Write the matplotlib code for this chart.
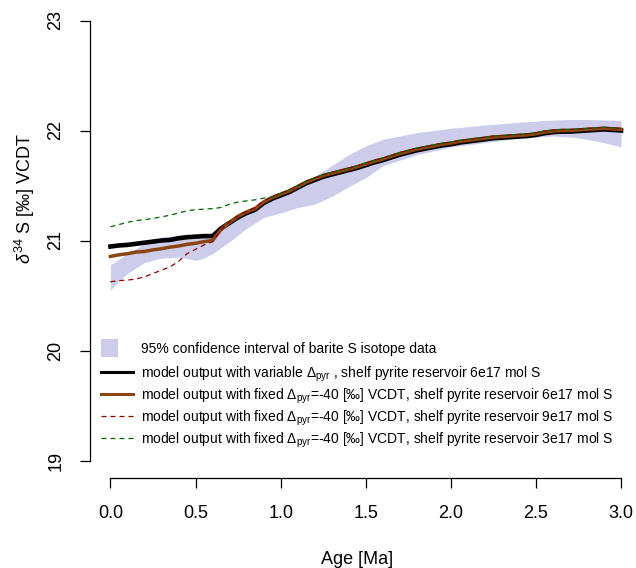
import matplotlib
matplotlib.use("Agg")
import matplotlib.pyplot as plt
from matplotlib.lines import Line2D
from matplotlib.patches import Rectangle
from matplotlib.legend import Legend
from matplotlib.legend_handler import HandlerPatch

plt.rcParams['font.family'] = ['Liberation Sans', 'DejaVu Sans']
plt.rcParams['mathtext.fontset'] = 'custom'
plt.rcParams['mathtext.rm'] = 'Liberation Sans'
plt.rcParams['mathtext.it'] = 'Liberation Sans:italic'
plt.rcParams['mathtext.bf'] = 'Liberation Sans:bold'

# Model age grid [Ma]
age = [0.00, 0.05, 0.10, 0.15, 0.20, 0.25, 0.30, 0.35, 0.40, 0.45,
       0.50, 0.55, 0.60, 0.65, 0.70, 0.75, 0.80, 0.85, 0.90, 0.95,
       1.00, 1.05, 1.10, 1.15, 1.20, 1.25, 1.30, 1.35, 1.40, 1.45,
       1.50, 1.55, 1.60, 1.65, 1.70, 1.75, 1.80, 1.85, 1.90, 1.95,
       2.00, 2.05, 2.10, 2.15, 2.20, 2.25, 2.30, 2.35, 2.40, 2.45,
       2.50, 2.55, 2.60, 2.65, 2.70, 2.75, 2.80, 2.85, 2.90, 2.95, 3.00]

# variable fractionation, shelf pyrite reservoir 6e17 mol S
d34s_variable = [20.945, 20.955, 20.960, 20.970, 20.980, 20.990, 21.000, 21.005, 21.020, 21.030,
                 21.035, 21.040, 21.040, 21.110, 21.160, 21.210, 21.250, 21.280, 21.340, 21.380,
                 21.410, 21.440, 21.480, 21.520, 21.550, 21.580, 21.600, 21.620, 21.640, 21.660,
                 21.685, 21.710, 21.730, 21.755, 21.780, 21.800, 21.820, 21.835, 21.850, 21.865,
                 21.875, 21.890, 21.900, 21.910, 21.920, 21.930, 21.935, 21.940, 21.945, 21.950,
                 21.960, 21.975, 21.985, 21.990, 21.990, 21.995, 22.000, 22.005, 22.010, 22.005, 22.000]

# fixed fractionation, reservoir 6e17 mol S
d34s_fixed_6e17 = [20.855, 20.870, 20.880, 20.895, 20.900, 20.915, 20.925, 20.940, 20.950, 20.965,
                   20.975, 20.990, 21.000, 21.100, 21.165, 21.220, 21.260, 21.290, 21.350, 21.390,
                   21.420, 21.450, 21.490, 21.530, 21.560, 21.590, 21.610, 21.630, 21.650, 21.670,
                   21.695, 21.720, 21.740, 21.765, 21.790, 21.810, 21.830, 21.845, 21.860, 21.875,
                   21.885, 21.900, 21.910, 21.920, 21.930, 21.940, 21.945, 21.950, 21.955, 21.960,
                   21.970, 21.985, 21.995, 22.000, 22.000, 22.005, 22.010, 22.015, 22.020, 22.015, 22.010]

# fixed fractionation, reservoir 9e17 mol S
d34s_fixed_9e17 = [20.625, 20.635, 20.640, 20.650, 20.670, 20.700, 20.730, 20.760, 20.810, 20.880,
                   20.920, 20.960, 20.990, 21.100, 21.170, 21.225, 21.265, 21.300, 21.360, 21.400,
                   21.430, 21.460, 21.500, 21.540, 21.570, 21.600, 21.620, 21.640, 21.660, 21.680,
                   21.705, 21.730, 21.750, 21.775, 21.800, 21.820, 21.840, 21.855, 21.870, 21.885,
                   21.895, 21.910, 21.920, 21.930, 21.940, 21.950, 21.955, 21.960, 21.965, 21.970,
                   21.980, 21.995, 22.005, 22.010, 22.010, 22.015, 22.020, 22.025, 22.030, 22.025, 22.020]

# fixed fractionation, reservoir 3e17 mol S
d34s_fixed_3e17 = [21.125, 21.145, 21.165, 21.180, 21.190, 21.200, 21.215, 21.230, 21.250, 21.270,
                   21.280, 21.285, 21.290, 21.300, 21.330, 21.350, 21.360, 21.370, 21.385, 21.395,
                   21.430, 21.460, 21.500, 21.540, 21.570, 21.600, 21.620, 21.640, 21.660, 21.680,
                   21.705, 21.730, 21.750, 21.775, 21.800, 21.820, 21.840, 21.855, 21.870, 21.885,
                   21.895, 21.910, 21.920, 21.930, 21.940, 21.950, 21.955, 21.960, 21.965, 21.970,
                   21.980, 21.995, 22.005, 22.010, 22.010, 22.015, 22.020, 22.025, 22.030, 22.025, 22.020]

# 95% confidence interval of barite d34S data
ci_age = [0.00, 0.05, 0.10, 0.20, 0.30, 0.40, 0.50, 0.55, 0.60, 0.70, 0.80, 0.90, 1.00, 1.10,
          1.20, 1.30, 1.40, 1.50, 1.60, 1.80, 2.00, 2.20, 2.40, 2.60, 2.70, 2.80, 2.90, 3.00]
ci_upper = [20.78, 20.83, 20.88, 20.97, 21.03, 21.05, 21.05, 21.05, 21.06, 21.17, 21.25, 21.34, 21.42, 21.50,
            21.58, 21.68, 21.78, 21.86, 21.92, 21.98, 22.02, 22.05, 22.075, 22.095, 22.10, 22.10, 22.095, 22.09]
ci_lower = [20.55, 20.63, 20.70, 20.80, 20.84, 20.85, 20.82, 20.84, 20.88, 20.99, 21.11, 21.21, 21.25, 21.30,
            21.33, 21.40, 21.49, 21.57, 21.68, 21.78, 21.85, 21.89, 21.93, 21.95, 21.94, 21.92, 21.89, 21.85]

x_ticks = [0.0, 0.5, 1.0, 1.5, 2.0, 2.5, 3.0]
x_ticklabels = ['0.0', '0.5', '1.0', '1.5', '2.0', '2.5', '3.0']
y_ticks = [19, 20, 21, 22, 23]

band_color = '#cdcdeb'
c_var = 'black'
c_6e17 = '#8B4513'
c_9e17 = '#8B0000'
c_3e17 = '#006400'

W, H = 636, 568
fig = plt.figure(figsize=(W / 100, H / 100), dpi=100)
# plot region in pixels (left, right, bottom, top)
L, R_, B, T = 90.0, 641.5, 478.1, 2.9
ax = fig.add_axes([L / W, (H - B) / H, (R_ - L) / W, (B - T) / H])
ax.set_xlim(-0.12, 3.12)
ax.set_ylim(18.84, 23.16)

ax.fill_between(ci_age, ci_lower, ci_upper, color=band_color, lw=0, zorder=1)
ax.plot(age, d34s_variable, color=c_var, lw=3.3, zorder=2, solid_joinstyle='round')
ax.plot(age, d34s_fixed_6e17, color=c_6e17, lw=2.5, zorder=3, solid_joinstyle='round')
ax.plot(age, d34s_fixed_9e17, color=c_9e17, lw=0.9, dashes=(4, 3.2), zorder=4)
ax.plot(age, d34s_fixed_3e17, color=c_3e17, lw=0.9, dashes=(4, 3.2), zorder=5)

for s in ['top', 'right']:
    ax.spines[s].set_visible(False)
ax.spines['left'].set_bounds(19, 23)
ax.spines['bottom'].set_bounds(0, 3)
for s in ['left', 'bottom']:
    ax.spines[s].set_linewidth(0.9)

ax.set_xticks(x_ticks)
ax.set_xticklabels(x_ticklabels)
ax.set_yticks(y_ticks)
ax.set_yticklabels([str(v) for v in y_ticks], rotation=90, va='center')
ax.tick_params(axis='both', direction='out', length=7.5, width=0.9, labelsize=13)
ax.tick_params(axis='x', pad=12)
ax.tick_params(axis='y', pad=11)

fig.text(357 / W, 1 - 559 / H, 'Age [Ma]', ha='center', va='center', fontsize=13)
fig.text(25 / W, 1 - 198 / H, r'$\delta^{34}$ S [‰] VCDT', ha='center', va='center',
         rotation=90, fontsize=13)


class HandlerLeftBox(HandlerPatch):
    """Filled square drawn at the left end of the handle area."""
    def create_artists(self, legend, orig_handle, xdescent, ydescent, width, height, fontsize, trans):
        side = 9.0 * legend.figure.dpi / 72.0
        p = Rectangle((-xdescent, -ydescent + height / 2 - side / 2), side, side,
                      facecolor=orig_handle.get_facecolor(), edgecolor='none', transform=trans)
        return [p]


h_band = Rectangle((0, 0), 1, 1, facecolor=band_color, edgecolor='none')
h_var = Line2D([], [], color=c_var, lw=2.2)
h_6 = Line2D([], [], color=c_6e17, lw=2.2)
h_9 = Line2D([], [], color=c_9e17, lw=0.9, dashes=(4, 3.2))
h_3 = Line2D([], [], color=c_3e17, lw=0.9, dashes=(4, 3.2))

labels = [
    '95% confidence interval of barite S isotope data',
    r'model output with variable $\Delta_{\mathrm{pyr}}$ , shelf pyrite reservoir 6e17 mol S',
    r'model output with fixed $\Delta_{\mathrm{pyr}}$=-40 [‰] VCDT, shelf pyrite reservoir 6e17 mol S',
    r'model output with fixed $\Delta_{\mathrm{pyr}}$=-40 [‰] VCDT, shelf pyrite reservoir 9e17 mol S',
    r'model output with fixed $\Delta_{\mathrm{pyr}}$=-40 [‰] VCDT, shelf pyrite reservoir 3e17 mol S',
]
handles = [h_band, h_var, h_6, h_9, h_3]
row_y = [349, 374, 396, 418, 440]   # legend row centres, pixels from top

# one single-entry legend per row keeps the row pitch even
for h, lab, yy in zip(handles, labels, row_y):
    leg = Legend(ax, [h], [lab], handler_map={Rectangle: HandlerLeftBox()},
                 loc='center left', bbox_to_anchor=(101 / W, 1 - yy / H),
                 bbox_transform=fig.transFigure, frameon=False, fontsize=10,
                 handlelength=2.3, handletextpad=0.6,
                 borderaxespad=0, borderpad=0)
    ax.add_artist(leg)

fig.savefig('out.png', dpi=100)
